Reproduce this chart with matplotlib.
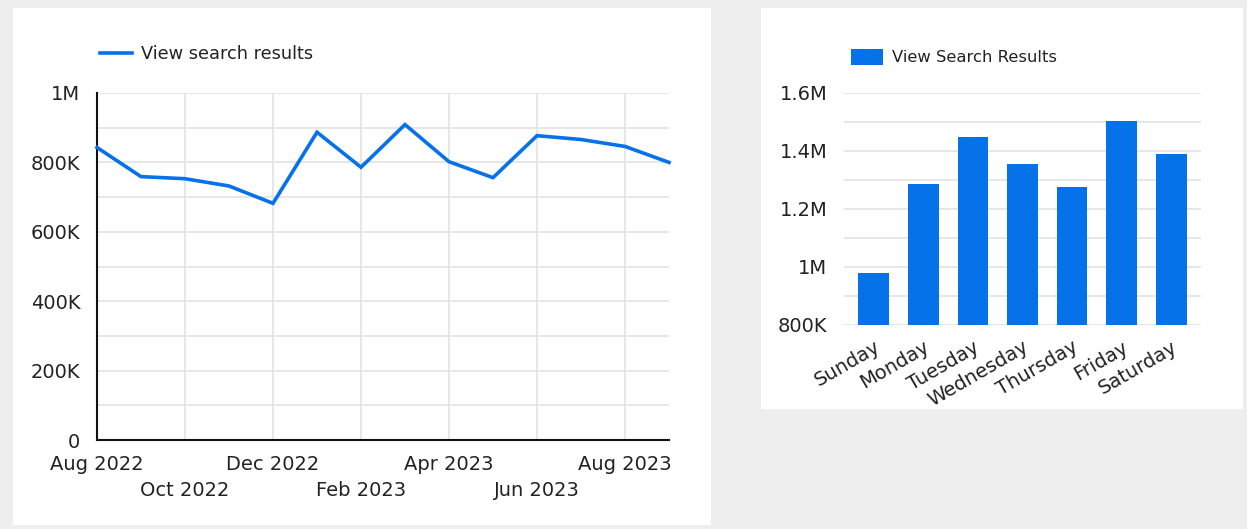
import matplotlib.pyplot as plt
from matplotlib.patches import Rectangle
from matplotlib.ticker import MultipleLocator, FuncFormatter

plt.rcParams['font.family'] = ['DejaVu Sans']

# monthly search result views
months = ['Aug 2022', 'Sep 2022', 'Oct 2022', 'Nov 2022', 'Dec 2022', 'Jan 2023',
          'Feb 2023', 'Mar 2023', 'Apr 2023', 'May 2023', 'Jun 2023', 'Jul 2023',
          'Aug 2023', 'Sep 2023']
monthly_views = [843000, 759000, 753000, 732000, 682000, 887000, 786000,
                 909000, 802000, 756000, 877000, 866000, 846000, 800000]

# views by day of week
days = ['Sunday', 'Monday', 'Tuesday', 'Wednesday', 'Thursday', 'Friday', 'Saturday']
day_views = [981000, 1285000, 1447000, 1356000, 1275000, 1505000, 1390000]

blue = '#0672ea'
grid_col = '#e3e3e3'
text_col = '#222222'
W, H = 1247, 529


def fmt(v, pos=None):
    if v == 0:
        return '0'
    if v >= 1e6:
        s = f'{v / 1e6:.1f}'.rstrip('0').rstrip('.')
        return s + 'M'
    return f'{int(v / 1000)}K'


def box(x0, y0, x1, y1):
    return [x0 / W, 1 - y1 / H, (x1 - x0) / W, (y1 - y0) / H]


fig = plt.figure(figsize=(W / 100, H / 100), dpi=100)
fig.patch.set_facecolor('#eeeeee')

# white card backgrounds
for x0, y0, x1, y1 in [(13, 8, 711, 525), (761, 8, 1243, 409)]:
    fig.patches.append(Rectangle((x0 / W, 1 - y1 / H), (x1 - x0) / W, (y1 - y0) / H,
                                 transform=fig.transFigure, facecolor='white',
                                 edgecolor='none', zorder=-5))

# line chart
ax = fig.add_axes(box(97, 93, 669, 440))
ax.set_facecolor('none')
x = list(range(len(months)))
ax.plot(x, monthly_views, color=blue, lw=2.6, solid_joinstyle='miter', zorder=3,
        clip_on=False, label='View search results')
ax.set_xlim(0, len(months) - 1)
ax.set_ylim(0, 1000000)
ax.yaxis.set_major_locator(MultipleLocator(200000))
ax.yaxis.set_minor_locator(MultipleLocator(100000))
ax.yaxis.set_major_formatter(FuncFormatter(fmt))
ticks = x[::2]
ax.set_xticks(ticks)
ax.set_xticklabels([months[i] if k % 2 == 0 else '\n' + months[i]
                    for k, i in enumerate(ticks)])
ax.grid(True, which='both', axis='y', color=grid_col, lw=1.2)
ax.grid(True, which='major', axis='x', color=grid_col, lw=1.2)
ax.set_axisbelow(True)
for s in ['top', 'right']:
    ax.spines[s].set_visible(False)
for s in ['left', 'bottom']:
    ax.spines[s].set_color('#111111')
    ax.spines[s].set_linewidth(1.5)
ax.tick_params(which='both', length=0, labelsize=14, colors=text_col)
ax.tick_params(axis='y', pad=12)
ax.tick_params(axis='x', pad=11)
for lbl in ax.get_xticklabels():
    lbl.set_linespacing(1.45)
ax.legend(loc='center left', bbox_to_anchor=(-0.008, 1.112), frameon=False,
          fontsize=12.8, handlelength=1.85, handletextpad=0.5, labelcolor=text_col,
          borderaxespad=0)

# bar chart
bx = fig.add_axes(box(844, 93, 1201, 325))
bx.set_facecolor('none')
bx.bar(range(len(days)), day_views, width=0.62, color=blue, zorder=3,
       label='View Search Results')
bx.set_xlim(-0.6, len(days) - 0.4)
bx.set_ylim(800000, 1600000)
bx.yaxis.set_major_locator(MultipleLocator(200000))
bx.yaxis.set_minor_locator(MultipleLocator(100000))
bx.yaxis.set_major_formatter(FuncFormatter(fmt))
bx.set_xticks(range(len(days)))
bx.set_xticklabels(days, rotation=30, ha='right', rotation_mode='anchor')
bx.grid(True, which='both', axis='y', color=grid_col, lw=1.2)
bx.set_axisbelow(True)
for s in bx.spines.values():
    s.set_visible(False)
bx.tick_params(which='both', length=0, labelsize=14, colors=text_col)
bx.tick_params(axis='y', pad=12)
bx.tick_params(axis='x', pad=9)
bx.legend(loc='center left', bbox_to_anchor=(0.0, 1.155), frameon=False,
          fontsize=11.8, handlelength=2.0, handleheight=1.1, handletextpad=0.5,
          labelcolor=text_col, borderaxespad=0)

fig.savefig('out.png', dpi=100, facecolor=fig.get_facecolor())
